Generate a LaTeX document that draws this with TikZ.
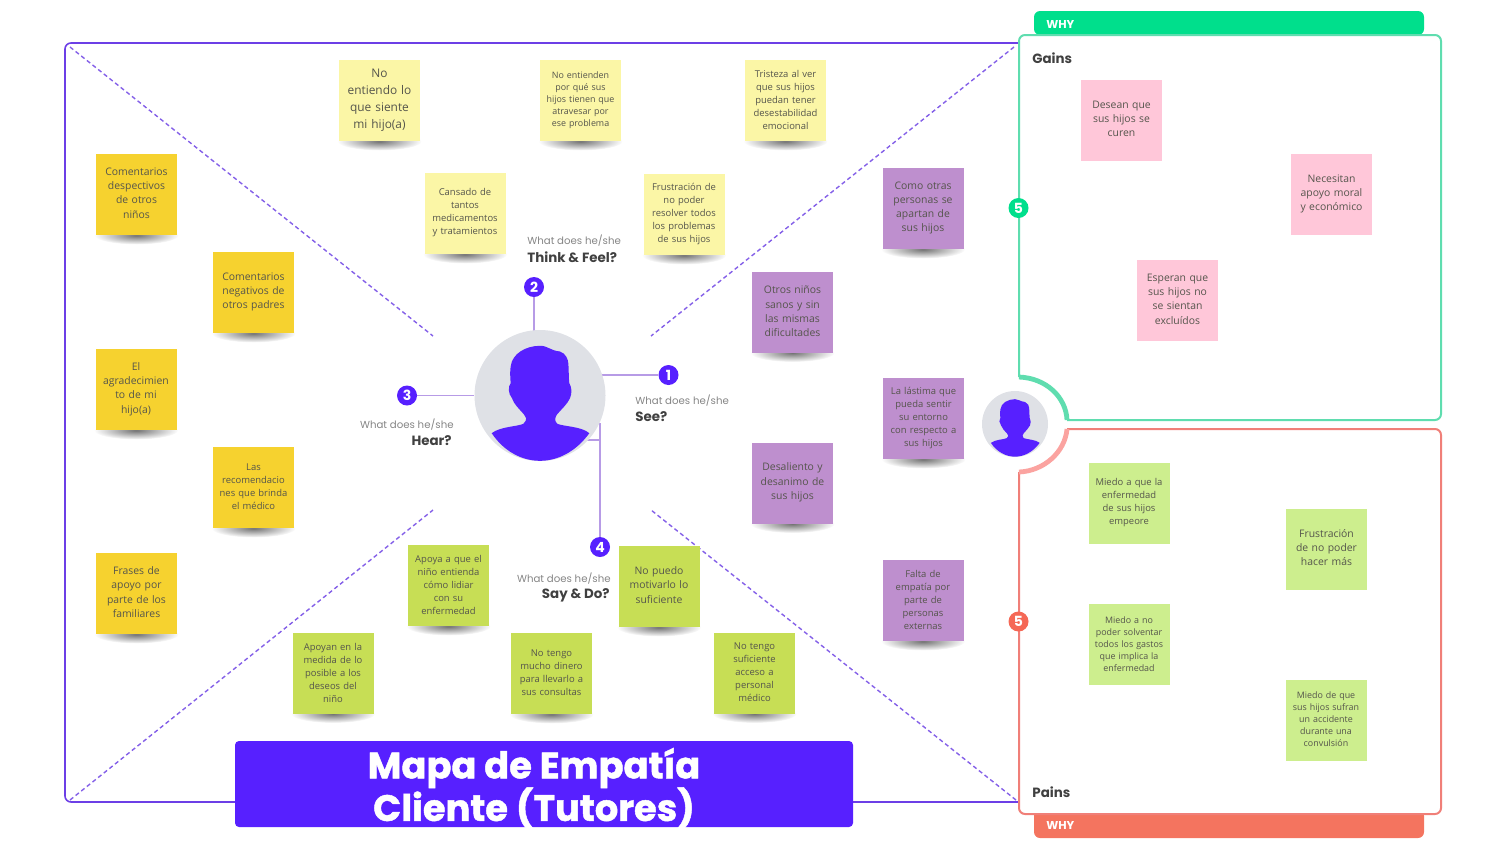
\documentclass[tikz,border=0pt]{standalone}
\usepackage{fontspec}
\setmainfont{Open Sans}
\newfontfamily\headfont{Poppins}
\newfontfamily\titlefont[BoldFeatures={FakeBold=1.2}]{Poppins}
\usetikzlibrary{backgrounds,fadings}
\definecolor{violetline}{HTML}{6C3FE6}
\definecolor{violetdash}{HTML}{8460E8}
\definecolor{violetfill}{HTML}{5720FF}
\definecolor{stemline}{HTML}{B79BE6}
\definecolor{facegrey}{HTML}{DFE1E6}
\definecolor{paleyellow}{HTML}{FBF6A6}
\definecolor{goldyellow}{HTML}{F6D22F}
\definecolor{mauve}{HTML}{BE8FCE}
\definecolor{palepink}{HTML}{FFC7D9}
\definecolor{limegreen}{HTML}{C7DE55}
\definecolor{palegreen}{HTML}{CDEE8E}
\definecolor{gainline}{HTML}{5FDDAF}
\definecolor{gainfill}{HTML}{00DF8C}
\definecolor{painline}{HTML}{F07F78}
\definecolor{painfill}{HTML}{F4745F}
\definecolor{painarc}{HTML}{FBA3A0}
\definecolor{inktext}{HTML}{55554C}
\tikzfading[name=softedge, inner color=transparent!0, outer color=transparent!100]
\tikzset{
  sticky/.style={inner sep=0pt, minimum width=40.5pt, minimum height=40.5pt, text width=38pt, align=center, text=inktext, execute at end node={\par\vspace{.5pt}}},
  raised/.style={execute at end node={\par\vspace{1pt}}},
  notebig/.style={sticky, font=\fontsize{5.95}{8.6}\selectfont},
  note/.style={sticky, font=\fontsize{5.2}{7.15}\selectfont},
  notemid/.style={sticky, font=\fontsize{4.72}{6.5}\selectfont},
  notesmall/.style={sticky, font=\fontsize{4.45}{6}\selectfont},
  stickyshadow/.style={fill=black!55, path fading=softedge},
  badge/.style={circle, fill=violetfill, text=white, inner sep=0pt, minimum size=10pt, font=\headfont\bfseries\fontsize{7}{7}\selectfont},
  askline/.style={font=\headfont\fontsize{5.1}{7}\selectfont, text=black!48, inner sep=0pt},
  askbold/.style={font=\headfont\bfseries\fontsize{6.7}{8}\selectfont, text=black!75, inner sep=0pt},
  stem/.style={stemline, line width=.8pt},
  diagonal/.style={violetdash, line width=.7pt, dash pattern=on 2.1pt off 1.5pt},
  person/.pic={
    \fill[violetfill] (-48.3,37.7) .. controls (-40,31) and (-22,31) .. (-16.7,28.3)
      .. controls (-12,24) and (-14,21) .. (-16,19) .. controls (-21,13) and (-26,9) .. (-28,2.7)
      .. controls (-32,-2) and (-32,-9) .. (-29.3,-12.3) .. controls (-30,-20) and (-30,-25) .. (-29.3,-29)
      .. controls (-28,-42) and (-14,-49.7) .. (0,-49.7) .. controls (8,-49.7) and (10,-45) .. (20,-44)
      .. controls (26,-42) and (28,-36) .. (28.3,-32.3) .. controls (29,-25) and (28.5,-18) .. (29.3,-12.3)
      .. controls (32,-8) and (32,-2) .. (30,2.7) .. controls (27,9) and (22,13) .. (17,19)
      .. controls (15,22) and (14,25) .. (17.3,28.3) .. controls (24,31) and (42,31) .. (49.3,37.7)
      .. controls (36,56) and (18,65.3) .. (0,65.3) .. controls (-18,65.3) and (-36,56) .. (-48.3,37.7) -- cycle;
  }
}

\begin{document}
\begin{tikzpicture}[x=.5pt, y=-.5pt]
	\useasboundingbox (0,0) rectangle (1507,848);
	% outer frame and diagonals
	\draw[violetline, line width=.8pt, rounded corners=3pt] (1020,43) -- (65,43) -- (65,802) -- (1020,802);
	\draw[diagonal] (70,47) -- (433,336);
	\draw[diagonal] (1014,47) -- (651,336);
	\draw[diagonal] (70,800) -- (433,510);
	\draw[diagonal] (1016,800) -- (651,510);
	% gains and pains
	\fill[gainfill, rounded corners=3pt] (1034,35) -- (1034,11) -- (1424,11) -- (1424,35) -- cycle;
	\fill[painfill, rounded corners=3pt] (1034,810) -- (1034,838) -- (1424,838) -- (1424,810) -- cycle;
	\draw[gainline, line width=1pt, fill=white, rounded corners=3pt] (1019,377) -- (1019,35) -- (1441,35) -- (1441,420) -- (1067,420);
	\draw[painline, line width=1pt, fill=white, rounded corners=3pt] (1067,429) -- (1441,429) -- (1441,814) -- (1019,814) -- (1019,472);
	\draw[gainline, line width=2.4pt] (1019,377) .. controls (1046,378) and (1066,397) .. (1067,420);
	\draw[painarc, line width=2.4pt] (1019,472) .. controls (1044,471) and (1065,452) .. (1067,429);
	\node (whygain) [anchor=west, text=white, inner sep=0pt, font=\headfont\bfseries\fontsize{5.7}{7}\selectfont] at (1046,24) {WHY};
	\node (whypain) [anchor=west, text=white, inner sep=0pt, font=\headfont\bfseries\fontsize{5.7}{7}\selectfont] at (1046,825) {WHY};
	\node (gains) [askbold, anchor=west] at (1032,58) {Gains};
	\node (pains) [askbold, anchor=west] at (1032,792) {Pains};
	% faces
	\node (face) [circle, fill=facegrey, minimum size=65.5pt, inner sep=0pt] at (540,395.5) {};
	\pic at (face.center) {person};
	\node (smallface) [circle, fill=facegrey, minimum size=33pt, inner sep=0pt] at (1015,424) {};
	\pic[scale=.5] at (smallface.center) {person};
	% numbered badges
	\node (see) [badge] at (668.5,375) {1};
	\node (think) [badge] at (534,287) {2};
	\node (hear) [badge] at (407,395.5) {3};
	\node (say) [badge] at (600,547) {4};
	\node (gainmark) [badge, fill=gainfill] at (1018.5,208) {5};
	\node (painmark) [badge, fill=painfill!90!red] at (1018.5,621.5) {5};
	\coordinate (saytop) at (600,423);
	\coordinate (saybend) at (600,440);
	\begin{scope}[on background layer]
	\draw[stem] (see) -- (see -| face.center);
	\draw[stem] (think) -- (think |- face.center);
	\draw[stem] (hear) -- (face);
	\draw[stem] (say) -- (saytop);
	\draw[stem] (saybend) -- (saybend -| face.center);
	\end{scope}
	% questions
	\node (seeask) [askline, anchor=west] at (635,400.5) {What does he/she};
	\node (seebold) [askbold, anchor=west] at (635,417) {See?};
	\node (thinkask) [askline, anchor=west] at (527,240.5) {What does he/she};
	\node (thinkbold) [askbold, anchor=west] at (527,257) {Think \& Feel?};
	\node (hearask) [askline, anchor=east] at (454,425) {What does he/she};
	\node (hearbold) [askbold, anchor=east] at (452,441) {Hear?};
	\node (sayask) [askline, anchor=east] at (611,578.5) {What does he/she};
	\node (saybold) [askbold, anchor=east] at (610,595) {Say \& Do?};
	% think and feel
	\node (t1) [notebig, fill=paleyellow] at (379.5,100.5) {No\\entiendo lo\\que siente\\mi hijo(a)};
	\node (t2) [notesmall, fill=paleyellow] at (580.5,100.5) {No entienden\\por qué sus\\hijos tienen que\\atravesar por\\ese problema};
	\node (t3) [notemid, fill=paleyellow] at (785.5,100.5) {Tristeza al ver\\que sus hijos\\puedan tener\\desestabilidad\\emocional};
	\node (t4) [notemid, fill=paleyellow] at (465,213.5) {Cansado de\\tantos\\medicamentos\\y tratamientos};
	\node (t5) [notemid, fill=paleyellow] at (684,214.5) {Frustración de\\no poder\\resolver todos\\los problemas\\de sus hijos};
	% hear
	\node (h1) [note, raised, fill=goldyellow] at (136.5,194.5) {Comentarios\\despectivos\\de otros\\niños};
	\node (h2) [note, fill=goldyellow] at (253.5,292.5) {Comentarios\\negativos de\\otros padres};
	\node (h3) [note, fill=goldyellow] at (136,389.5) {El\\agradecimien\\to de mi\\hijo(a)};
	\node (h4) [notemid, fill=goldyellow] at (253.5,487.5) {Las\\recomendacio\\nes que brinda\\el médico};
	\node (h5) [note, raised, fill=goldyellow] at (136.5,593.5) {Frases de\\apoyo por\\parte de los\\familiares};
	% see
	\node (s1) [note, fill=mauve] at (923,208.5) {Como otras\\personas se\\apartan de\\sus hijos};
	\node (s2) [note, fill=mauve] at (792.5,312) {Otros niños\\sanos y sin\\las mismas\\dificultades};
	\node (s3) [notemid, fill=mauve] at (923.5,418.5) {La lástima que\\pueda sentir\\su entorno\\con respecto a\\sus hijos};
	\node (s4) [note, fill=mauve] at (792.5,483) {Desaliento y\\desanimo de\\sus hijos};
	\node (s5) [notemid, fill=mauve] at (923,600.5) {Falta de\\empatía por\\parte de\\personas\\externas};
	% say and do
	\node (d1) [notemid, fill=limegreen] at (448.5,585.5) {Apoya a que el\\niño entienda\\cómo lidiar\\con su\\enfermedad};
	\node (d2) [note, raised, fill=limegreen] at (659,586.5) {No puedo\\motivarlo lo\\suficiente};
	\node (d3) [notemid, fill=limegreen] at (333,673) {Apoyan en la\\medida de lo\\posible a los\\deseos del\\niño};
	\node (d4) [notemid, fill=limegreen] at (551.5,673.5) {No tengo\\mucho dinero\\para llevarlo a\\sus consultas};
	\node (d5) [notemid, fill=limegreen] at (754.5,673) {No tengo\\suficiente\\acceso a\\personal\\médico};
	% gains
	\node (g1) [note, raised, fill=palepink] at (1121.5,120.5) {Desean que\\sus hijos se\\curen};
	\node (g2) [note, fill=palepink] at (1331.5,194.5) {Necesitan\\apoyo moral\\y económico};
	\node (g3) [note, raised, fill=palepink] at (1177.5,300.5) {Esperan que\\sus hijos no\\se sientan\\excluídos};
	% pains
	\node (p1) [notemid, fill=palegreen] at (1129,503) {Miedo a que la\\enfermedad\\de sus hijos\\empeore};
	\node (p2) [note, raised, fill=palegreen] at (1326.5,549) {Frustración\\de no poder\\hacer más};
	\node (p3) [notesmall, fill=palegreen] at (1129,644.5) {Miedo a no\\poder solventar\\todos los gastos\\que implica la\\enfermedad};
	\node (p4) [notesmall, fill=palegreen] at (1326,720) {Miedo de que\\sus hijos sufran\\un accidente\\durante una\\convulsión};
	% shadows under the notes
	\begin{scope}[on background layer]
	\foreach \n in {t1,t2,t3,t4,t5,h1,h2,h3,h4,h5,s1,s2,s3,s4,s5,d1,d2,d3,d4,d5,g1,g2,g3,p1,p2,p3,p4}
		\fill[stickyshadow] (\n.south) ellipse (42 and 9);
	\end{scope}
	% title
	\node (title) [fill=violetfill, rounded corners=2pt, minimum width=309pt, minimum height=43pt, inner sep=0pt] at (544,784) {};
	\node (titletop) [text=white, inner sep=0pt, font=\titlefont\bfseries\fontsize{18.4}{20}\selectfont] at (534,768) {Mapa de Empatía};
	\node (titlelow) [text=white, inner sep=0pt, font=\titlefont\bfseries\fontsize{18.4}{20}\selectfont] at (534,808) {Cliente (Tutores)};
\end{tikzpicture}
\end{document}
